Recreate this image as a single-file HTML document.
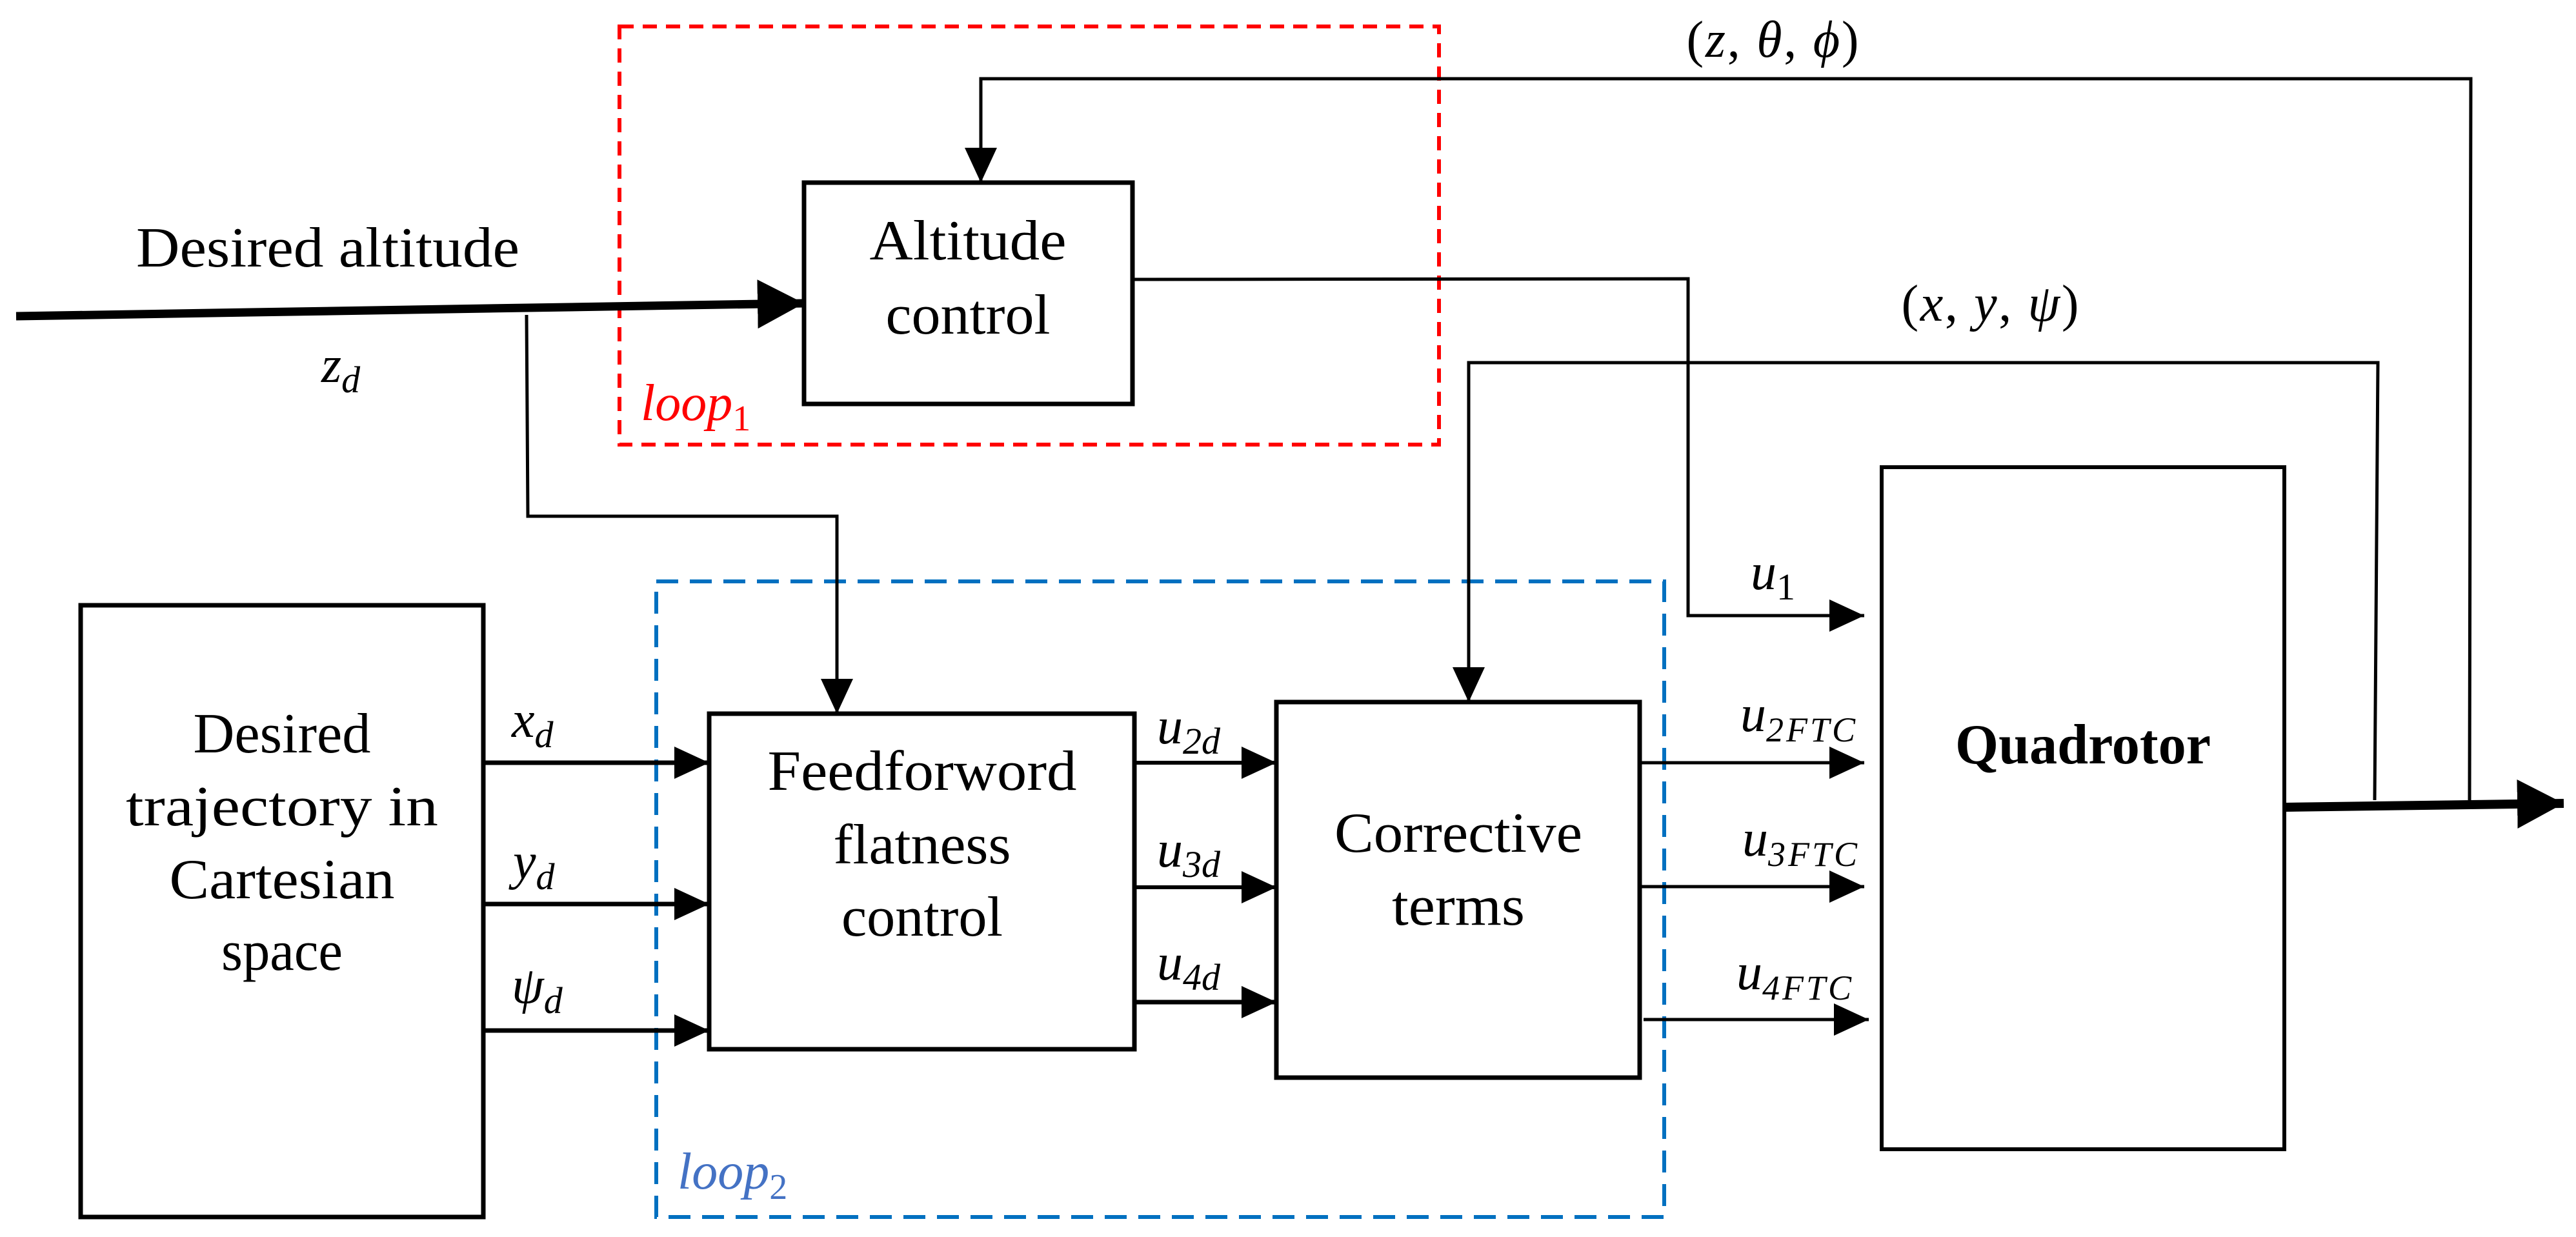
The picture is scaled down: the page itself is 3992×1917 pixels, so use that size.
<!DOCTYPE html>
<html><head><meta charset="utf-8"><style>
html,body{margin:0;padding:0;background:#fff;}
svg{display:block;}
.m{font-style:italic;}
</style></head><body>
<svg width="3992" height="1917" viewBox="0 0 3992 1917" xmlns="http://www.w3.org/2000/svg" font-family="'Liberation Serif', 'DejaVu Serif', serif">
<defs>
<marker id="ah" markerUnits="userSpaceOnUse" markerWidth="54" markerHeight="50" refX="54" refY="25" orient="auto"><path d="M0,0 L54,25 L0,50 Z" fill="#000"/></marker>
<marker id="ahb" markerUnits="userSpaceOnUse" markerWidth="72" markerHeight="76" refX="72" refY="38" orient="auto"><path d="M0,0 L72,38 L0,76 Z" fill="#000"/></marker>
</defs>
<g fill="none" stroke="#000">
<rect x="960" y="41" width="1270" height="648" stroke="#ff0000" stroke-width="6" stroke-dasharray="22,14"/>
<rect x="1017" y="901" width="1562" height="985" stroke="#0070c0" stroke-width="6" stroke-dasharray="34,18"/>
<rect x="1246" y="283" width="509" height="343" stroke-width="7"/>
<rect x="125" y="938" width="624" height="948" stroke-width="7"/>
<rect x="1099" y="1106" width="659" height="520" stroke-width="7"/>
<rect x="1978" y="1088" width="563" height="582" stroke-width="7"/>
<rect x="2916" y="724" width="624" height="1057" stroke-width="6"/>
<line x1="25" y1="490" x2="1246" y2="470" stroke-width="13" marker-end="url(#ahb)"/>
<polyline points="816,488 818,800 1297,800 1297,1106" stroke-width="5" marker-end="url(#ah)"/>
<polyline points="1755,433 2616,432 2616,954 2889,954" stroke-width="5" marker-end="url(#ah)"/>
<polyline points="3827,1240 3829,122 1520,122 1520,283" stroke-width="5" marker-end="url(#ah)"/>
<polyline points="3680,1240 3685,562 2276,562 2276,1088" stroke-width="5" marker-end="url(#ah)"/>
<line x1="3540" y1="1251" x2="3973" y2="1245" stroke-width="14" marker-end="url(#ahb)"/>
<line x1="749" y1="1182" x2="1099" y2="1182" stroke-width="7" marker-end="url(#ah)"/>
<line x1="749" y1="1401" x2="1099" y2="1401" stroke-width="7" marker-end="url(#ah)"/>
<line x1="749" y1="1597" x2="1099" y2="1597" stroke-width="7" marker-end="url(#ah)"/>
<line x1="1758" y1="1182" x2="1978" y2="1182" stroke-width="6" marker-end="url(#ah)"/>
<line x1="1758" y1="1375" x2="1978" y2="1375" stroke-width="6" marker-end="url(#ah)"/>
<line x1="1758" y1="1553" x2="1978" y2="1553" stroke-width="7" marker-end="url(#ah)"/>
<line x1="2541" y1="1182" x2="2889" y2="1182" stroke-width="5" marker-end="url(#ah)"/>
<line x1="2541" y1="1374" x2="2889" y2="1374" stroke-width="5" marker-end="url(#ah)"/>
<line x1="2547" y1="1580" x2="2896" y2="1580" stroke-width="5" marker-end="url(#ah)"/>
</g>
<g font-size="88" text-anchor="middle" fill="#000">
<text x="508" y="413" textLength="594" lengthAdjust="spacingAndGlyphs">Desired altitude</text>
<text x="1500" y="402" textLength="305" lengthAdjust="spacingAndGlyphs">Altitude</text>
<text x="1500" y="517" textLength="255" lengthAdjust="spacingAndGlyphs">control</text>
<text x="437" y="1166" textLength="275" lengthAdjust="spacingAndGlyphs">Desired</text>
<text x="437" y="1279" textLength="484" lengthAdjust="spacingAndGlyphs">trajectory in</text>
<text x="437" y="1392" textLength="349" lengthAdjust="spacingAndGlyphs">Cartesian</text>
<text x="437" y="1503" textLength="188" lengthAdjust="spacingAndGlyphs">space</text>
<text x="1429" y="1224" textLength="479" lengthAdjust="spacingAndGlyphs">Feedforword</text>
<text x="1429" y="1338" textLength="275" lengthAdjust="spacingAndGlyphs">flatness</text>
<text x="1429" y="1450" textLength="250" lengthAdjust="spacingAndGlyphs">control</text>
<text x="2260" y="1320" textLength="384" lengthAdjust="spacingAndGlyphs">Corrective</text>
<text x="2260" y="1433" textLength="206" lengthAdjust="spacingAndGlyphs">terms</text>
<text x="3228" y="1183" font-weight="bold" textLength="396" lengthAdjust="spacingAndGlyphs">Quadrotor</text>
</g>
<g font-size="80" fill="#000">
<text class="m" x="498" y="592">z<tspan font-size="58" dy="16">d</tspan></text>
<text class="m" x="793" y="1142">x<tspan font-size="58" dy="16">d</tspan></text>
<text class="m" x="795" y="1362">y<tspan font-size="58" dy="16">d</tspan></text>
<text class="m" x="793" y="1554">ψ<tspan font-size="58" dy="16">d</tspan></text>
<text class="m" x="1793" y="1152">u<tspan font-size="58" dy="16">2d</tspan></text>
<text class="m" x="1793" y="1343">u<tspan font-size="58" dy="16">3d</tspan></text>
<text class="m" x="1793" y="1518">u<tspan font-size="58" dy="16">4d</tspan></text>
<text class="m" x="2713" y="913">u<tspan font-size="58" dy="16" font-style="normal">1</tspan></text>
<text class="m" x="2697" y="1133">u<tspan font-size="54" dy="16" letter-spacing="4">2FTC</tspan></text>
<text class="m" x="2700" y="1326">u<tspan font-size="54" dy="16" letter-spacing="4">3FTC</tspan></text>
<text class="m" x="2691" y="1533">u<tspan font-size="54" dy="16" letter-spacing="4">4FTC</tspan></text>
<text x="2747" y="88" text-anchor="middle" textLength="267" lengthAdjust="spacing">(<tspan font-style="italic">z</tspan>, <tspan font-style="italic">θ</tspan>, <tspan font-style="italic">ϕ</tspan>)</text>
<text x="3084" y="497" text-anchor="middle" textLength="275" lengthAdjust="spacing">(<tspan font-style="italic">x</tspan>, <tspan font-style="italic">y</tspan>, <tspan font-style="italic">ψ</tspan>)</text>
<text class="m" x="993" y="651" fill="#ff0000">loop<tspan font-size="56" dy="16" font-style="normal">1</tspan></text>
<text class="m" x="1050" y="1842" fill="#4472c4">loop<tspan font-size="56" dy="16" font-style="normal">2</tspan></text>
</g>
</svg>
</body></html>
